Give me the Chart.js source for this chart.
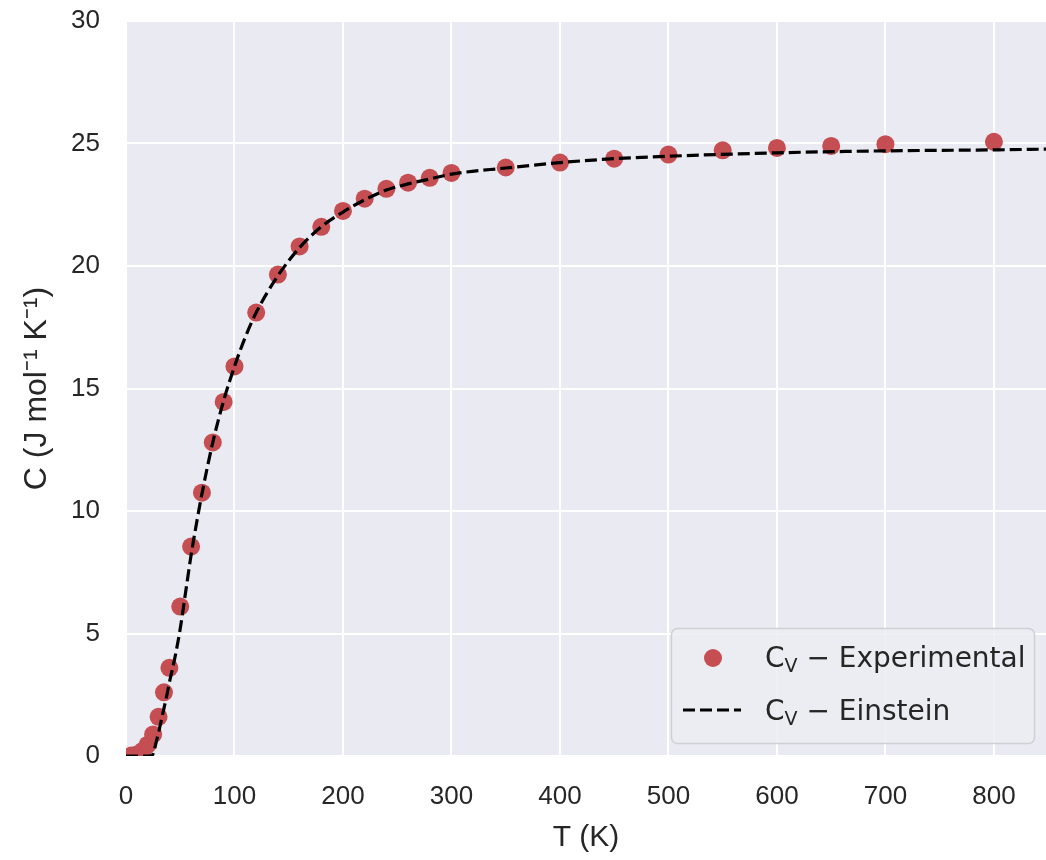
<!DOCTYPE html>
<html>
<head>
<meta charset="utf-8">
<script src="https://cdn.jsdelivr.net/npm/chart.js@4.4.1/dist/chart.umd.min.js"></script>
<style>
  html, body { margin: 0; padding: 0; background: #ffffff; }
  #wrap { width: 1046px; height: 860px; }
</style>
</head>
<body>
<div id="wrap"><canvas id="heatChart" width="1046" height="860"></canvas></div>
<script>
// experimental heat capacity points
const expT = [5, 10, 15, 20, 25, 30, 35, 40, 50, 60, 70, 80, 90, 100, 120, 140, 160, 180, 200,
    220, 240, 260, 280, 300, 350, 400, 450, 500, 550, 600, 650, 700, 800];
const expC = [0.02, 0.06, 0.2, 0.46, 0.88, 1.6, 2.6, 3.6, 6.1, 8.55, 10.75, 12.8, 14.45, 15.9, 18.1,
    19.65, 20.8, 21.6, 22.25, 22.75, 23.15, 23.4, 23.6, 23.8, 24.02, 24.22, 24.38, 24.55, 24.72,
    24.82, 24.9, 24.97, 25.07];

// einstein model curve
const einT = [0, 20, 24, 26, 28, 30, 32, 34, 36, 38, 40, 45, 50, 55, 60, 65, 70, 80, 90, 100, 110,
    120, 140, 160, 180, 200, 220, 240, 260, 280, 300, 350, 400, 450, 500, 600, 700, 800, 850];
const einC = [0, 0, 0.02, 0.25, 0.6, 0.95, 1.35, 1.75, 2.15, 2.55, 3.0, 4.0, 5.2, 6.7, 8.2, 9.5,
    10.7, 12.8, 14.5, 15.9, 17.1, 18.1, 19.6, 20.75, 21.6, 22.2, 22.7, 23.1, 23.35, 23.55, 23.75,
    24.0, 24.22, 24.38, 24.48, 24.62, 24.7, 24.74, 24.77];

const red = '#C44E52';
const textColor = '#262626';

const toPoints = (xs, ys) => xs.map((x, i) => ({x: x, y: ys[i]}));

const plotBackground = {
    id: 'plotBackground',
    beforeDraw(chart) {
        const {ctx, chartArea: a} = chart;
        ctx.save();
        ctx.fillStyle = '#EAEAF2';
        ctx.fillRect(a.left, a.top, a.right - a.left, a.bottom - a.top);
        ctx.restore();
    }
};

// legend drawn inside the plot, lower right
const innerLegend = {
    id: 'innerLegend',
    afterDraw(chart) {
        const ctx = chart.ctx;
        ctx.save();
        const bx = 671.5, by = 628.5, bw = 363, bh = 115, r = 6;
        ctx.beginPath();
        ctx.moveTo(bx + r, by);
        ctx.arcTo(bx + bw, by, bx + bw, by + bh, r);
        ctx.arcTo(bx + bw, by + bh, bx, by + bh, r);
        ctx.arcTo(bx, by + bh, bx, by, r);
        ctx.arcTo(bx, by, bx + bw, by, r);
        ctx.closePath();
        ctx.fillStyle = 'rgba(236,236,243,0.85)';
        ctx.fill();
        ctx.strokeStyle = '#cfcfd4';
        ctx.lineWidth = 1.5;
        ctx.stroke();

        // marker
        ctx.fillStyle = red;
        ctx.beginPath();
        ctx.arc(713, 658, 9, 0, Math.PI * 2);
        ctx.fill();

        // dashed sample
        ctx.strokeStyle = '#000';
        ctx.lineWidth = 3.2;
        ctx.setLineDash([12, 5]);
        ctx.beginPath();
        ctx.moveTo(683, 710);
        ctx.lineTo(741, 710);
        ctx.stroke();
        ctx.setLineDash([]);

        const label = (y, rest) => {
            ctx.fillStyle = textColor;
            ctx.textBaseline = 'alphabetic';
            ctx.textAlign = 'left';
            ctx.font = '28px "DejaVu Sans"';
            ctx.fillText('C', 765, y);
            let x = 765 + ctx.measureText('C').width;
            ctx.font = '19px "DejaVu Sans"';
            ctx.fillText('V', x, y + 5);
            x += ctx.measureText('V').width;
            ctx.font = '28px "DejaVu Sans"';
            ctx.fillText(' \u2212 ' + rest, x, y);
        };
        label(667, 'Experimental');
        label(720, 'Einstein');
        ctx.restore();
    }
};

const ctx1 = document.getElementById('heatChart');

new Chart(ctx1, {
    type: 'scatter',
    data: {
        datasets: [{
            label: 'Cv - Einstein',
            data: toPoints(einT, einC),
            showLine: true,
            borderColor: '#000',
            borderWidth: 3.2,
            borderDash: [12, 5],
            pointRadius: 0,
            cubicInterpolationMode: 'monotone',
            order: 0
        }, {
            label: 'Cv - Experimental',
            data: toPoints(expT, expC),
            backgroundColor: red,
            borderWidth: 0,
            pointRadius: 9,
            order: 1
        }]
    },
    options: {
        responsive: false,
        animation: false,
        layout: {autoPadding: false, padding: {top: 21, right: 0, left: 0, bottom: 0}},
        plugins: {
            legend: {display: false},
            tooltip: {enabled: false}
        },
        scales: {
            x: {
                type: 'linear',
                min: 0,
                max: 848,
                border: {display: false},
                grid: {color: '#ffffff', lineWidth: 2, drawTicks: false},
                ticks: {
                    stepSize: 100,
                    includeBounds: false,
                    padding: 25,
                    color: textColor,
                    font: {family: '"Liberation Sans", Arial', size: 26},
                    maxRotation: 0
                },
                title: {
                    display: true,
                    text: 'T (K)',
                    color: textColor,
                    font: {family: '"Liberation Sans", Arial', size: 30},
                    padding: {top: 0, bottom: 4}
                },
                afterFit(scale) {
                    scale.height = 104;
                    scale.paddingLeft = 0;
                    scale.paddingRight = 0;
                }
            },
            y: {
                type: 'linear',
                min: 0,
                max: 30,
                border: {display: false},
                grid: {color: '#ffffff', lineWidth: 2, drawTicks: false},
                ticks: {
                    stepSize: 5,
                    padding: 26,
                    color: textColor,
                    font: {family: '"Liberation Sans", Arial', size: 26}
                },
                title: {
                    display: true,
                    text: 'C (J mol\u207B\u00B9 K\u207B\u00B9)',
                    color: textColor,
                    font: {family: '"Liberation Sans", Arial', size: 32},
                    padding: {top: 18, bottom: 0}
                },
                afterFit(scale) {
                    scale.width = 126;
                    scale.paddingTop = 0;
                    scale.paddingBottom = 0;
                }
            }
        }
    },
    plugins: [plotBackground, innerLegend]
});
</script>
</body>
</html>
